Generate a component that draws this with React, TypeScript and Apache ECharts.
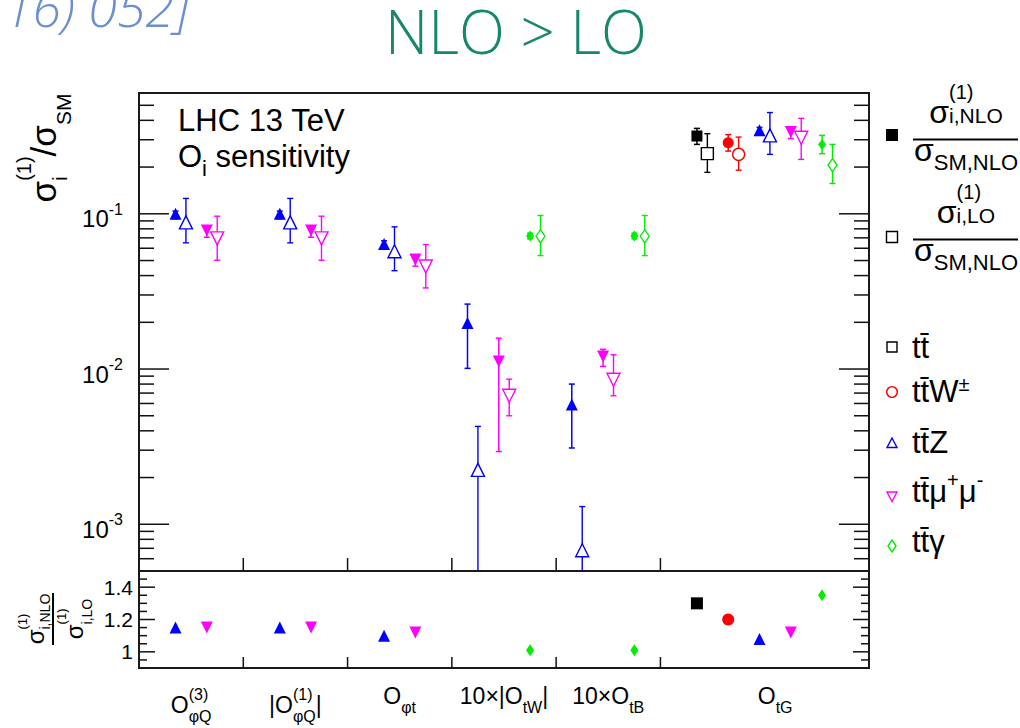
import { useEffect, useRef } from 'react';
import * as echarts from 'echarts';

const FONT = '"Liberation Sans", Arial, Helvetica, sans-serif';
const LIGHT_FONT = '"Open Sans", "Liberation Sans", Arial, sans-serif';

// Axis ranges of the two panels
const X_MIN = 0;
const X_MAX = 7;
const Y_MIN = 5e-4;
const Y_MAX = 0.6;
const R_MIN = 0.9;
const R_MAX = 1.5;

// Operator bins: boundaries between bins and the centres of their labels (O_tG spans two units)
const binEdges = [1, 2, 3, 4, 5];
const labelCentres = [0.5, 1.5, 2.5, 3.5, 4.5, 6.1];

// Operator names as runs of text with super/subscripts
const operatorNames: any[] = [
  [{ t: 'O' }, { t: '(3)', sup: true }, { t: 'φQ', sub: true }],
  [{ t: '|O' }, { t: '(1)', sup: true }, { t: 'φQ', sub: true }, { t: '|' }],
  [{ t: 'O' }, { t: 'φt', sub: true }],
  [{ t: '10×|O' }, { t: 'tW', sub: true }, { t: '|' }],
  [{ t: '10×O' }, { t: 'tB', sub: true }],
  [{ t: 'O' }, { t: 'tG', sub: true }],
];

// Tick layout of the log axis and of the ratio axis
const logDecades = [-4, -3, -2, -1];
const logMantissas = [1, 2, 3, 4, 5, 6, 7, 8, 9];
const ratioTicks = [0.95, 1, 1.05, 1.1, 1.15, 1.2, 1.25, 1.3, 1.35, 1.4, 1.45];
const ratioLabels = [1, 1.2, 1.4];

// ---- tt̄ ----
const ttX = [null, null, null, null, null, 5.35];
const ttNlo = [null, null, null, null, null, 0.317];
const ttNloLow = [null, null, null, null, null, 0.28];
const ttNloHigh = [null, null, null, null, null, 0.355];
const ttLo = [null, null, null, null, null, 0.244];
const ttLoLow = [null, null, null, null, null, 0.185];
const ttLoHigh = [null, null, null, null, null, 0.328];
const ttRatio = [null, null, null, null, null, 1.3];

// ---- tt̄W± ----
const ttWX = [null, null, null, null, null, 5.65];
const ttWNlo = [null, null, null, null, null, 0.287];
const ttWNloLow = [null, null, null, null, null, 0.2535];
const ttWNloHigh = [null, null, null, null, null, 0.3236];
const ttWLo = [null, null, null, null, null, 0.2415];
const ttWLoLow = [null, null, null, null, null, 0.191];
const ttWLoHigh = [null, null, null, null, null, 0.312];
const ttWRatio = [null, null, null, null, null, 1.2];

// ---- tt̄Z ----
const ttZX = [0.35, 1.35, 2.35, 3.15, 4.15, 5.95];
const ttZNlo = [0.1, 0.1, 0.064, 0.0198, 0.0059, 0.345];
const ttZNloLow = [0.093, 0.093, 0.06, 0.0101, 0.0031, 0.33];
const ttZNloHigh = [0.104, 0.104, 0.067, 0.0262, 0.008, 0.36];
const ttZLo = [0.088, 0.088, 0.0574, 0.00224, 0.00068, 0.32];
const ttZLoLow = [0.065, 0.065, 0.043, 0, 0, 0.2415];
const ttZLoHigh = [0.1256, 0.1256, 0.0824, 0.00427, 0.0013, 0.449];
const ttZRatio = [1.15, 1.15, 1.1, null, null, 1.08];

// ---- tt̄μ⁺μ⁻ ----
const ttMuX = [0.65, 1.65, 2.65, 3.45, 4.45, 6.25];
const ttMuNlo = [0.078, 0.078, 0.0507, 0.0112, 0.01205, 0.337];
const ttMuNloLow = [0.0706, 0.0706, 0.046, 0.00294, 0.0104, 0.305];
const ttMuNloHigh = [0.082, 0.082, 0.053, 0.0158, 0.0134, 0.35];
const ttMuLo = [0.0695, 0.0695, 0.0458, 0.00673, 0.00853, 0.309];
const ttMuLoLow = [0.0502, 0.0502, 0.0333, 0.005, 0.00673, 0.224];
const ttMuLoHigh = [0.0965, 0.0965, 0.0634, 0.0086, 0.01236, 0.412];
const ttMuRatio = [1.15, 1.15, 1.12, null, null, 1.12];

// ---- tt̄γ ----
const ttAX = [null, null, null, 3.75, 4.75, 6.55];
const ttANlo = [null, null, null, 0.072, 0.072, 0.28];
const ttANloLow = [null, null, null, 0.069, 0.069, 0.244];
const ttANloHigh = [null, null, null, 0.075, 0.075, 0.32];
const ttALo = [null, null, null, 0.0717, 0.0717, 0.206];
const ttALoLow = [null, null, null, 0.0538, 0.0538, 0.1567];
const ttALoHigh = [null, null, null, 0.0975, 0.0975, 0.28];
const ttARatio = [null, null, null, 1.01, 1.01, 1.35];

const LO_SHIFT = 0.1;

const processes = [
  { x: ttX, nlo: ttNlo, nloLow: ttNloLow, nloHigh: ttNloHigh, lo: ttLo, loLow: ttLoLow, loHigh: ttLoHigh, ratio: ttRatio,
    color: '#000000', symbol: 'rect', rotate: 0, size: 11, openSize: 12 },
  { x: ttWX, nlo: ttWNlo, nloLow: ttWNloLow, nloHigh: ttWNloHigh, lo: ttWLo, loLow: ttWLoLow, loHigh: ttWLoHigh, ratio: ttWRatio,
    color: '#ff0000', symbol: 'circle', rotate: 0, size: 11, openSize: 12 },
  { x: ttZX, nlo: ttZNlo, nloLow: ttZNloLow, nloHigh: ttZNloHigh, lo: ttZLo, loLow: ttZLoLow, loHigh: ttZLoHigh, ratio: ttZRatio,
    color: '#0000ff', symbol: 'triangle', rotate: 0, size: 12, openSize: 13 },
  { x: ttMuX, nlo: ttMuNlo, nloLow: ttMuNloLow, nloHigh: ttMuNloHigh, lo: ttMuLo, loLow: ttMuLoLow, loHigh: ttMuLoHigh, ratio: ttMuRatio,
    color: '#ff00ff', symbol: 'triangle', rotate: 180, size: 12, openSize: 13 },
  { x: ttAX, nlo: ttANlo, nloLow: ttANloLow, nloHigh: ttANloHigh, lo: ttALo, loLow: ttALoLow, loHigh: ttALoHigh, ratio: ttARatio,
    color: '#00ee00', symbol: 'diamond', rotate: 0, size: [8, 11], openSize: [9, 13] },
];

// ---------- drawing helpers ----------
let measureCtx: any = null;
function textWidth(t: string, size: number, family = FONT) {
  if (!measureCtx) measureCtx = document.createElement('canvas').getContext('2d');
  measureCtx.font = `${size}px ${family}`;
  return measureCtx.measureText(t).width;
}

function textEl(t: string, x: number, y: number, size: number, align = 'left', extra: any = {}) {
  return {
    type: 'text',
    x,
    y,
    silent: true,
    style: {
      text: t,
      fill: '#000',
      fontSize: size,
      fontFamily: FONT,
      align,
      textAlign: align,
      verticalAlign: 'middle',
      textVerticalAlign: 'middle',
      ...extra,
    },
  };
}

type Piece = { t: string; size: number; dy?: number; stack?: boolean };

// Lays pieces out one after another; a piece marked "stack" shares its start with the next one
function run(pieces: Piece[], x: number, y: number, anchor: string, extra: any = {}) {
  let cursor = 0;
  let held: number | null = null;
  let heldW = 0;
  const placed = pieces.map((p) => {
    const w = textWidth(p.t, p.size, extra.fontFamily || FONT);
    const start = held ?? cursor;
    if (p.stack) {
      held = start;
      heldW = Math.max(heldW, w);
    } else {
      cursor = start + Math.max(w, heldW);
      held = null;
      heldW = 0;
    }
    return { p, start };
  });
  const shift = anchor === 'left' ? 0 : anchor === 'center' ? -cursor / 2 : -cursor;
  return placed.map(({ p, start }) => textEl(p.t, x + shift + start, y + (p.dy ?? 0), p.size, 'left', extra));
}

function seg(x1: number, y1: number, x2: number, y2: number, stroke = '#111', lineWidth = 1.5) {
  return { type: 'line', silent: true, shape: { x1, y1, x2, y2 }, style: { stroke, lineWidth } };
}

const CAP = 3;
function errorBarRenderer(color: string, lineWidth: number) {
  return (_params: any, api: any) => {
    const x = api.value(0);
    const low = api.value(1);
    const high = api.value(2);
    const open = api.value(3) === 1;
    const top = api.coord([x, high]);
    const bottom = api.coord([x, low]);
    const children: any[] = [
      seg(top[0], top[1], bottom[0], bottom[1], color, lineWidth),
      seg(top[0] - CAP, top[1], top[0] + CAP, top[1], color, lineWidth),
    ];
    if (!open) children.push(seg(bottom[0] - CAP, bottom[1], bottom[0] + CAP, bottom[1], color, lineWidth));
    return { type: 'group', children };
  };
}

function points(xs: any[], vs: any[], shift = 0) {
  const out: number[][] = [];
  xs.forEach((x, i) => {
    if (x != null && vs[i] != null) out.push([x + shift, vs[i]]);
  });
  return out;
}

function bars(xs: any[], lows: any[], highs: any[], shift = 0) {
  const out: number[][] = [];
  xs.forEach((x, i) => {
    if (x == null || lows[i] == null) return;
    const below = lows[i] <= Y_MIN;
    out.push([x + shift, below ? Y_MIN : lows[i], highs[i], below ? 1 : 0]);
  });
  return out;
}

function buildOption() {
  const mainTicks: number[][] = [];
  logDecades.forEach((d) =>
    logMantissas.forEach((m) => {
      const v = m * Math.pow(10, d);
      if (v > Y_MIN * 1.001 && v < Y_MAX * 0.999) mainTicks.push([X_MIN, v, m === 1 ? 1 : 0]);
    })
  );

  const series: any[] = [
    // log-axis ticks on both sides, with 10^k labels
    {
      type: 'custom', xAxisIndex: 0, yAxisIndex: 0, silent: true, z: 10,
      encode: { x: 0, y: 1 },
      data: mainTicks,
      renderItem: (_p: any, api: any) => {
        const v = api.value(1);
        const major = api.value(2) === 1;
        const [xl, y] = api.coord([X_MIN, v]);
        const [xr] = api.coord([X_MAX, v]);
        const len = major ? 30 : 15;
        const children: any[] = [seg(xl, y, xl + len, y), seg(xr - len, y, xr, y)];
        if (major) {
          const exp = String(Math.round(Math.log10(v)));
          const supW = textWidth(exp, 16);
          children.push(textEl('10', xl - 16 - supW, y + 5, 24, 'right'));
          children.push(textEl(exp, xl - 16, y - 4.5, 16, 'right'));
        }
        return { type: 'group', children };
      },
    },
    // bin boundaries along the bottom of the upper panel
    {
      type: 'custom', xAxisIndex: 0, yAxisIndex: 0, silent: true, z: 10,
      encode: { x: 0, y: 1 },
      data: binEdges.map((e) => [e, Y_MIN]),
      renderItem: (_p: any, api: any) => {
        const [x, y] = api.coord([api.value(0), api.value(1)]);
        return seg(x, y, x, y - 13);
      },
    },
    // ratio-axis ticks on both sides, with labels
    {
      type: 'custom', xAxisIndex: 1, yAxisIndex: 1, silent: true, z: 10,
      encode: { x: 0, y: 1 },
      data: ratioTicks.map((v) => [X_MIN, v, ratioLabels.some((l) => Math.abs(l - v) < 1e-9) ? 1 : 0]),
      renderItem: (_p: any, api: any) => {
        const v = api.value(1);
        const major = api.value(2) === 1;
        const [xl, y] = api.coord([X_MIN, v]);
        const [xr] = api.coord([X_MAX, v]);
        const len = major ? 16 : 8;
        const children: any[] = [seg(xl, y, xl + len, y), seg(xr - len, y, xr, y)];
        if (major) children.push(textEl(String(v), xl - 6, y, 21, 'right'));
        return { type: 'group', children };
      },
    },
    // bin boundaries along the bottom of the ratio panel
    {
      type: 'custom', xAxisIndex: 1, yAxisIndex: 1, silent: true, z: 10,
      encode: { x: 0, y: 1 },
      data: binEdges.map((e) => [e, R_MIN]),
      renderItem: (_p: any, api: any) => {
        const [x, y] = api.coord([api.value(0), api.value(1)]);
        return seg(x, y, x, y - 11);
      },
    },
    // operator names under the ratio panel
    {
      type: 'custom', xAxisIndex: 1, yAxisIndex: 1, silent: true, z: 10,
      encode: { x: 0, y: 1 },
      data: labelCentres.map((c, i) => [c, R_MIN, i]),
      renderItem: (_p: any, api: any) => {
        const idx = api.value(2);
        const [cx, by] = api.coord([api.value(0), api.value(1)]);
        const parts = operatorNames[idx];
        const hasSup = parts.some((p: any) => p.sup);
        const pieces: Piece[] = parts.map((p: any, k: number) => ({
          t: p.t,
          size: p.sup || p.sub ? 16 : 23,
          dy: p.sup ? -11 : p.sub ? 11 : 0,
          stack: !!p.sup && !!(parts[k + 1] && parts[k + 1].sub),
        }));
        return { type: 'group', children: run(pieces, cx, by + (hasSup ? 37 : 28), 'center') };
      },
    },
  ];

  processes.forEach((p) => {
    series.push({
      type: 'custom', xAxisIndex: 0, yAxisIndex: 0, silent: true, z: 3,
      encode: { x: 0, y: [1, 2] },
      data: bars(p.x, p.nloLow, p.nloHigh),
      renderItem: errorBarRenderer(p.color, 1.5),
    });
    series.push({
      type: 'scatter', xAxisIndex: 0, yAxisIndex: 0, silent: true, z: 4,
      symbol: p.symbol, symbolRotate: p.rotate, symbolSize: p.size,
      itemStyle: { color: p.color, opacity: 1 },
      data: points(p.x, p.nlo),
    });
    series.push({
      type: 'custom', xAxisIndex: 0, yAxisIndex: 0, silent: true, z: 5,
      encode: { x: 0, y: [1, 2] },
      data: bars(p.x, p.loLow, p.loHigh, LO_SHIFT),
      renderItem: errorBarRenderer(p.color, 1.4),
    });
    series.push({
      type: 'scatter', xAxisIndex: 0, yAxisIndex: 0, silent: true, z: 6,
      symbol: p.symbol, symbolRotate: p.rotate, symbolSize: p.openSize,
      itemStyle: { color: '#ffffff', borderColor: p.color, borderWidth: 1.4, opacity: 1 },
      data: points(p.x, p.lo, LO_SHIFT),
    });
    series.push({
      type: 'scatter', xAxisIndex: 1, yAxisIndex: 1, silent: true, z: 6,
      symbol: p.symbol, symbolRotate: p.rotate, symbolSize: Array.isArray(p.size) ? [8, 12] : 12,
      itemStyle: { color: p.color, opacity: 1 },
      data: points(p.x, p.ratio),
    });
  });

  // ----- legend -----
  const legend: any[] = [];
  const LX = 892;
  const fracCentre = 966;
  const fraction = (numSub: string, barY: number, square: any) => {
    legend.push(square);
    legend.push(...run(
      [{ t: 'σ', size: 32 }, { t: '(1)', size: 20, dy: -20, stack: true }, { t: numSub, size: 21, dy: 4 }],
      fracCentre, barY - 28, 'center'));
    legend.push(seg(913, barY, 1018, barY, '#000', 2));
    legend.push(...run([{ t: 'σ', size: 32 }, { t: 'SM,NLO', size: 22, dy: 13 }], fracCentre, barY + 10, 'center'));
  };
  fraction('i,NLO', 139.5, { type: 'rect', silent: true, shape: { x: LX - 6, y: 129, width: 12, height: 12 }, style: { fill: '#000' } });
  fraction('i,LO', 239.5, { type: 'rect', silent: true, shape: { x: LX - 5.5, y: 231.5, width: 11, height: 11 }, style: { fill: '#fff', stroke: '#000', lineWidth: 1.4 } });

  const open = (color: string) => ({ fill: '#fff', stroke: color, lineWidth: 1.4 });
  legend.push({ type: 'rect', silent: true, shape: { x: LX - 5, y: 342, width: 10, height: 10 }, style: open('#000') });
  legend.push({ type: 'circle', silent: true, shape: { cx: LX, cy: 392, r: 5.3 }, style: open('#ff0000') });
  legend.push({ type: 'polygon', silent: true, shape: { points: [[LX, 438], [LX + 5, 447.5], [LX - 5, 447.5]] }, style: open('#0000ff') });
  legend.push({ type: 'polygon', silent: true, shape: { points: [[LX - 5, 492], [LX + 5, 492], [LX, 501.5]] }, style: open('#ff00ff') });
  legend.push({ type: 'polygon', silent: true, shape: { points: [[LX, 540], [LX + 4, 546], [LX, 552], [LX - 4, 546]] }, style: open('#00ee00') });

  const TX = 912;
  const LS = 31;
  legend.push(...run([{ t: 'tt̄', size: LS }], TX, 347, 'left'));
  legend.push(...run([{ t: 'tt̄W', size: LS }, { t: '±', size: 20, dy: -7 }], TX, 391, 'left'));
  legend.push(...run([{ t: 'tt̄Z', size: LS }], TX, 442.5, 'left'));
  legend.push(...run([{ t: 'tt̄μ', size: LS }, { t: '+', size: 20, dy: -11 }, { t: 'μ', size: LS }, { t: '-', size: 20, dy: -11 }], TX, 491, 'left'));
  legend.push(...run([{ t: 'tt̄γ', size: LS }], TX, 541, 'left'));

  const graphic: any[] = [
    // reference tag, cut by the top edge
    textEl('16) 052]', 4, 6, 52, 'left', { fill: '#6b8fd0', fontFamily: LIGHT_FONT, fontStyle: 'italic', fontWeight: 300 }),
    // headline
    textEl('NLO > LO', 516, 31, 60, 'center', { fill: '#17876a', fontFamily: LIGHT_FONT, fontWeight: 300, lineHeight: 60 }),
    // in-frame captions
    textEl('LHC 13 TeV', 178, 120.5, 31),
    ...run([{ t: 'O', size: 31 }, { t: 'i', size: 22, dy: 11.5 }, { t: ' sensitivity', size: 31 }], 178, 156.5, 'left'),
    // upper y-axis title, read bottom to top
    {
      type: 'group', x: 43, y: 148, rotation: Math.PI / 2, silent: true,
      children: run([
        { t: 'σ', size: 35 },
        { t: '(1)', size: 20, dy: -19, stack: true },
        { t: 'i', size: 20, dy: 17 },
        { t: '/', size: 35 },
        { t: 'σ', size: 35 },
        { t: 'SM', size: 21, dy: 20 },
      ], 0, 0, 'center'),
    },
    // ratio-panel y-axis title
    {
      type: 'group', x: 53, y: 619, rotation: Math.PI / 2, silent: true,
      children: [
        ...run([{ t: 'σ', size: 24 }, { t: '(1)', size: 13, dy: -13, stack: true }, { t: 'i,NLO', size: 14, dy: 10 }], 0, -18, 'center'),
        seg(-26, 0, 26, 0, '#000', 2),
        ...run([{ t: 'σ', size: 24 }, { t: '(1)', size: 13, dy: -12.5, stack: true }, { t: 'i,LO', size: 14, dy: 13 }], 0, 21, 'center'),
      ],
    },
    ...legend,
  ];

  return {
    animation: false,
    backgroundColor: '#ffffff',
    grid: [
      { left: 139, top: 93, width: 730, height: 478, show: true, borderColor: '#1a1a1a', borderWidth: 2, backgroundColor: 'transparent', containLabel: false },
      { left: 139, top: 571, width: 730, height: 97, show: true, borderColor: '#1a1a1a', borderWidth: 2, backgroundColor: 'transparent', containLabel: false },
    ],
    xAxis: [
      { type: 'value', gridIndex: 0, min: X_MIN, max: X_MAX, show: false },
      { type: 'value', gridIndex: 1, min: X_MIN, max: X_MAX, show: false },
    ],
    yAxis: [
      { type: 'log', logBase: 10, gridIndex: 0, min: Y_MIN, max: Y_MAX, show: false },
      { type: 'value', gridIndex: 1, min: R_MIN, max: R_MAX, show: false },
    ],
    series,
    graphic,
  };
}

export default function App() {
  const ref = useRef<HTMLDivElement>(null);
  useEffect(() => {
    if (!ref.current) return;
    const chart = echarts.init(ref.current, undefined, { renderer: 'svg' });
    chart.setOption(buildOption() as any);
    return () => chart.dispose();
  }, []);
  return (
    <div
      ref={ref}
      style={{ position: 'fixed', left: 0, top: 0, width: 1020, height: 728, background: '#fff' }}
    />
  );
}
